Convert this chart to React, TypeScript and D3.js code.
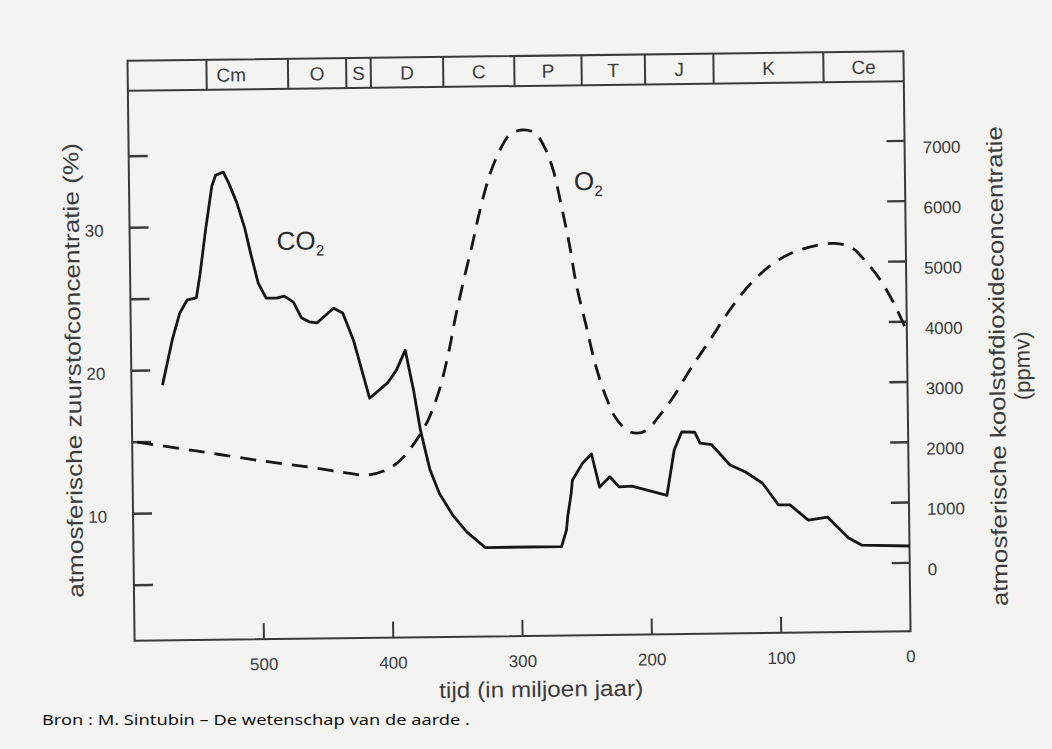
import React from 'react';
import * as d3 from 'd3';

// Geologic periods (boundaries in Ma, read from the header strip)
const periodLabels = ['', 'Cm', 'O', 'S', 'D', 'C', 'P', 'T', 'J', 'K', 'Ce'];
const periodBounds = [600, 539, 476, 431, 412, 356, 301, 249, 200, 147, 62, 0];

// Axis ticks
const timeTicks = [500, 400, 300, 200, 100, 0];
const o2Ticks = [5, 10, 15, 20, 25, 30, 35];
const o2TickLabels = ['', '10', '', '20', '', '30', ''];
const co2Ticks = [0, 1000, 2000, 3000, 4000, 5000, 6000, 7000];

// CO2 (ppmv, right axis) – solid line
const co2Time = [576, 568, 562, 556, 549, 546, 541, 536, 533, 527, 523, 517, 511, 506, 501, 495, 487, 481, 474, 468, 462, 456, 449, 443, 436, 428, 416, 402, 395, 388, 382, 377, 370, 363, 353, 342, 328, 269, 265, 264, 261, 260, 252, 245, 239, 231, 224, 214, 187, 181, 175, 165, 161, 152, 138, 126, 113, 101, 92, 78, 63, 47, 37, 0];
const co2Ppm = [3100, 3850, 4290, 4510, 4540, 4920, 5700, 6390, 6570, 6620, 6440, 6120, 5690, 5210, 4770, 4520, 4520, 4550, 4450, 4190, 4120, 4100, 4230, 4340, 4260, 3810, 2840, 3090, 3300, 3630, 2970, 2300, 1640, 1250, 890, 600, 340, 340, 615, 830, 1230, 1440, 1720, 1870, 1320, 1490, 1320, 1330, 1170, 1920, 2220, 2210, 2030, 2000, 1660, 1540, 1350, 990, 985, 730, 775, 425, 305, 280];

// O2 (%, left axis) – dashed line
const o2Time = [596, 548, 501, 463, 436, 420, 405, 393, 381, 371, 362, 355, 349, 342, 335, 329, 321, 313, 305, 296, 286, 278, 272, 266, 260, 255, 248, 241, 233, 226, 217, 210, 202, 193, 182, 168, 152, 137, 121, 105, 90, 73, 55, 42, 31, 20, 10, 0];
const o2Pct = [15.0, 14.3, 13.6, 13.1, 12.7, 12.5, 12.8, 13.5, 14.8, 16.3, 18.4, 20.8, 23.4, 26.1, 28.6, 30.9, 33.4, 35.1, 36.2, 36.5, 36.3, 35.2, 33.7, 31.2, 28.4, 25.6, 22.8, 20.0, 17.7, 16.3, 15.4, 15.2, 15.4, 16.3, 17.6, 19.6, 21.7, 23.7, 25.5, 26.8, 27.6, 28.1, 28.3, 28.0, 27.0, 25.7, 24.1, 22.1];

const W = 1052;
const H = 749;
const L = 131, R = 907, TOP = 56, HEAD = 86, BOT = 636;
const FONT = '"Liberation Sans", Arial, Helvetica, sans-serif';
const INK = '#161616';
const TXT = '#3c3c3c';

export default function App() {
  const x = d3.scaleLinear().domain([600, 0]).range([L, R]);
  const yL = d3.scaleLinear().domain([5, 35]).range([580.5, 151.5]);
  const yR = d3.scaleLinear().domain([0, 7000]).range([567.6, 145.6]);

  const co2 = co2Time.map((t, i) => [t, co2Ppm[i]] as [number, number]);
  const o2 = o2Time.map((t, i) => [t, o2Pct[i]] as [number, number]);

  const co2Line = d3.line<[number, number]>().x(d => x(d[0])).y(d => yR(d[1])).curve(d3.curveLinear);
  const o2Line = d3.line<[number, number]>().x(d => x(d[0])).y(d => yL(d[1])).curve(d3.curveCatmullRom.alpha(0.5));

  const cells = periodLabels.map((lab, i) => ({
    lab,
    x0: x(periodBounds[i]),
    x1: x(periodBounds[i + 1]),
  }));

  return (
    <svg width={W} height={H} style={{ position: 'absolute', left: 0, top: 0, background: '#f3f3f2' }} fontFamily={FONT}>
      <rect x={0} y={0} width={W} height={H} fill="#f3f3f2" />
      <g transform="rotate(-0.7 520 345)">
        {/* frame */}
        <rect x={L} y={TOP} width={R - L} height={BOT - TOP} fill="none" stroke="#3a3a3a" strokeWidth={2} />
        <line x1={L} x2={R} y1={HEAD} y2={HEAD} stroke="#3a3a3a" strokeWidth={2} />
        {cells.slice(1).map((c, i) => (
          <line key={'d' + i} x1={c.x0} x2={c.x0} y1={TOP} y2={HEAD} stroke="#3a3a3a" strokeWidth={2} />
        ))}
        {cells.map((c, i) => c.lab ? (
          <text key={'p' + i} x={(c.x0 + c.x1) / 2 + (c.lab === 'Cm' ? -16 : 0)} y={78} fontSize={19} textAnchor="middle" fill={TXT}>{c.lab}</text>
        ) : null)}

        {/* left axis ticks */}
        {o2Ticks.map((v, i) => (
          <g key={'l' + i}>
            <line x1={L} x2={L + 19} y1={yL(v)} y2={yL(v)} stroke="#3a3a3a" strokeWidth={2.4} />
            {o2TickLabels[i] ? (
              <text x={105} y={yL(v) + 3} fontSize={17} textAnchor="end" dominantBaseline="central" fill={TXT}>{o2TickLabels[i]}</text>
            ) : null}
          </g>
        ))}

        {/* right axis ticks */}
        {co2Ticks.map((v, i) => (
          <g key={'r' + i}>
            <line x1={R - 18} x2={R} y1={yR(v)} y2={yR(v)} stroke="#3a3a3a" strokeWidth={2.4} />
            <text x={925} y={yR(v) + 7} fontSize={17} textAnchor="start" dominantBaseline="central" fill={TXT}>{d3.format('d')(v)}</text>
          </g>
        ))}

        {/* bottom axis ticks */}
        {timeTicks.map((t, i) => (
          <g key={'b' + i}>
            {t !== 0 ? <line x1={x(t)} x2={x(t)} y1={BOT} y2={BOT - 16} stroke="#3a3a3a" strokeWidth={2} /> : null}
            <text x={x(t)} y={667} fontSize={17} textAnchor="middle" fill={TXT}>{t}</text>
          </g>
        ))}

        {/* curves */}
        <path d={o2Line(o2) || ''} fill="none" stroke={INK} strokeWidth={2.8} strokeDasharray="16 10" />
        <path d={co2Line(co2) || ''} fill="none" stroke={INK} strokeWidth={2.8} strokeLinejoin="round" />

        {/* curve labels */}
        <text x={278} y={247} fontSize={26} fill="#2a2a2a">CO<tspan fontSize={15} dy={6}>2</tspan></text>
        <text x={576} y={191} fontSize={26} fill="#2a2a2a">O<tspan fontSize={15} dy={6}>2</tspan></text>

        {/* axis titles */}
        <text transform="translate(73,365) rotate(-90)" fontSize={22} textAnchor="middle" dominantBaseline="central" fill={TXT} textLength={455} lengthAdjust="spacingAndGlyphs">atmosferische zuurstofconcentratie (%)</text>
        <text transform="translate(997,372) rotate(-90)" fontSize={22} textAnchor="middle" dominantBaseline="central" fill={TXT} textLength={480} lengthAdjust="spacingAndGlyphs">atmosferische koolstofdioxideconcentratie</text>
        <text transform="translate(1022,372) rotate(-90)" fontSize={22} textAnchor="middle" dominantBaseline="central" fill={TXT}>(ppmv)</text>
        <text x={537} y={697} fontSize={22} textAnchor="middle" fill={TXT} textLength={204} lengthAdjust="spacingAndGlyphs">tijd (in miljoen jaar)</text>
      </g>
      <text x={42} y={725} fontSize={14} fill="#111" fontFamily='"Noto Sans", "Open Sans", sans-serif' textLength={428} lengthAdjust="spacingAndGlyphs">Bron : M. Sintubin – De wetenschap van de aarde .</text>
    </svg>
  );
}
